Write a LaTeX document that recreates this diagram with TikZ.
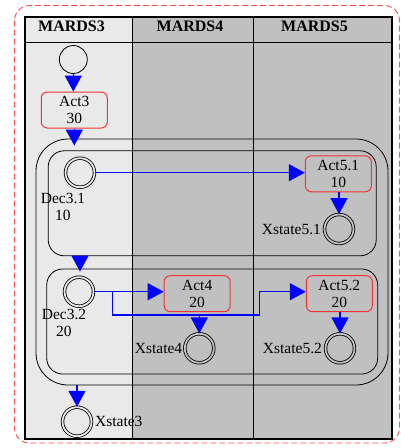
\documentclass[tikz,border=0pt]{standalone}
\usepackage{fontspec}
\setmainfont{Liberation Serif}
\usetikzlibrary{arrows.meta}
\definecolor{lanelight}{HTML}{E9E9E9}
\definecolor{lanedark}{HTML}{C0C0C0}
\definecolor{actred}{HTML}{F03535}
\definecolor{dashred}{HTML}{FF5050}
\begin{document}
\begin{tikzpicture}[x=1pt,y=-1pt,
  txt/.style={font=\fontsize{15.5}{17}\selectfont, inner sep=0pt},
  hdr/.style={font=\fontsize{16}{18}\selectfont\bfseries, inner sep=0pt, anchor=base},
  act/.style={draw=actred, line width=1pt, rounded corners=6pt, minimum width=66pt,
    minimum height=36pt, align=center, txt},
  startst/.style={circle, draw, line width=0.8pt, minimum size=28pt, inner sep=0pt},
  dblst/.style={circle, draw, line width=0.8pt, double=#1, double distance=1.8pt,
    minimum size=29pt, inner sep=0pt},
  grp/.style={draw, line width=0.8pt, inner sep=0pt},
  conn/.style={draw=blue, line width=1.2pt, -{Triangle[length=16pt,width=17pt,fill=blue]}}]
\useasboundingbox (0,0) rectangle (401,448);

% swimlanes
\fill[lanelight] (25,17) rectangle (132,439);
\fill[lanedark] (132,17) rectangle (392,439);
\draw[line width=0.9pt] (25,42) -- (392,42);
\draw[line width=0.9pt] (132,17) -- (132,439);
\draw[line width=0.9pt] (253,17) -- (253,439);
\draw[line width=1.2pt] (25,17) rectangle (392,439);
\node[hdr] (h3) at (71.5,31.5) {MARDS3};
\node[hdr] (h4) at (190,31.5) {MARDS4};
\node[hdr] (h5) at (314.5,31.5) {MARDS5};

% outer dashed frame
\draw[dashred, line width=0.9pt, dash pattern=on 6pt off 3pt, rounded corners=15pt]
  (14.5,5.5) rectangle (399.5,443);

% groups
\node[grp, rounded corners=32pt, minimum width=352pt, minimum height=246pt] (outer) at (212,262) {};
\node[grp, rounded corners=16pt, minimum width=328pt, minimum height=105pt] (g1) at (212.2,203.3) {};
\node[grp, rounded corners=16pt, minimum width=331pt, minimum height=105pt] (g2) at (212.2,321.5) {};

% states
\node[startst] (init) at (73.3,59.5) {};
\node[act] (act3) at (74.3,110) {Act3\\30};
\node[dblst=lanelight] (dec31) at (80,172.7) {};
\node[txt, align=center] (dec31l) at (63,207) {Dec3.1\\10};
\node[act] (act51) at (338.3,173.8) {Act5.1\\10};
\node[dblst=lanedark] (xs51) at (339,229) {};
\node[txt, anchor=east] (xs51l) at ([xshift=-3pt]xs51.west) {Xstate5.1};

\node[dblst=lanelight] (dec32) at (79,291.7) {};
\node[txt, align=center] (dec32l) at (64,323) {Dec3.2\\20};
\node[act] (act4) at (197.2,293.7) {Act4\\20};
\node[act] (act52) at (339.3,293.7) {Act5.2\\20};
\node[dblst=lanedark] (xs4) at (199.3,348.3) {};
\node[txt, anchor=east] (xs4l) at ([xshift=-2pt]xs4.west) {Xstate4};
\node[dblst=lanedark] (xs52) at (340,348.3) {};
\node[txt, anchor=east] (xs52l) at ([xshift=-3pt]xs52.west) {Xstate5.2};
\node[dblst=lanelight] (xs3) at (77,421.7) {};
\node[txt, anchor=west] (xs3l) at ([xshift=3pt]xs3.east) {Xstate3};

% connectors
\draw[conn] (init.south) -- (init.south |- act3.north);
\draw[conn, shorten >=-7pt] (act3.south) -- (act3.south |- outer.north);
\draw[conn, shorten >=-3pt] (dec31 |- g1.south) -- (dec31 |- g2.north);
\draw[conn] (xs3 |- outer.south) -- (xs3.north);
\draw[conn] (dec31.east) -- (dec31.east -| act51.west);
\draw[conn] (act51.south -| xs51) -- (xs51.north);
\draw[conn] (dec32.east) -- (dec32.east -| act4.west);
\coordinate (b1) at (112.3,291.7);
\coordinate (b2) at (259.3,315);
\coordinate (b3) at (259.3,291.7);
\draw[conn] (b1) |- (b2) -- (b3) -- (b3 -| act52.west);
\draw[conn, shorten <=3pt] (act4.south -| xs4) -- (xs4.north);
\draw[conn] (act52.south -| xs52) -- (xs52.north);
\end{tikzpicture}
\end{document}
